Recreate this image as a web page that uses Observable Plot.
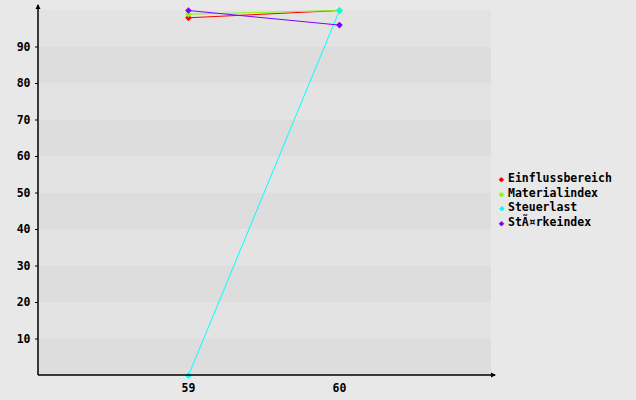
<!DOCTYPE html>
<html><head><meta charset="utf-8">
<script src="https://cdn.jsdelivr.net/npm/d3@7"></script>
<script src="https://cdn.jsdelivr.net/npm/@observablehq/plot@0.6"></script>
<style>
html,body{margin:0;padding:0;background:#e8e8e8;}
#wrap{position:relative;width:636px;height:400px;}
#legend{position:absolute;left:497px;top:171px;font:bold 11.5px "DejaVu Sans Mono",monospace;color:#000;}
#legend div{height:14.7px;line-height:14.7px;white-space:nowrap;}
#legend span.m{display:inline-block;width:9px;font-size:9px;text-align:center;margin-right:2px;}
</style></head>
<body><div id="wrap"><div id="legend"></div></div>
<script>
const xValues = [59, 60];
const seriesNames = ["Einflussbereich", "Materialindex", "Steuerlast", "StÃ¤rkeindex"];
const einfluss = [98, 100];
const material = [99, 100];
const steuer = [0, 100];
const staerke = [100, 96];
const colors = ["#ff0000", "#80ff00", "#00ffff", "#8000ff"];
const yTicks = [10, 20, 30, 40, 50, 60, 70, 80, 90];

const seriesValues = [einfluss, material, steuer, staerke];
const data = [];
seriesNames.forEach((s, i) => xValues.forEach((x, j) => data.push({series: s, x, y: seriesValues[i][j]})));
const bands = d3.range(0, 100, 10).map((v, i) => ({y1: v, y2: v + 10, dark: i % 2 === 0}));

const plot = Plot.plot({
  width: 636, height: 400,
  marginLeft: 38, marginRight: 145, marginTop: 10, marginBottom: 25,
  style: {background: "#e8e8e8", fontFamily: "DejaVu Sans Mono", fontWeight: "bold", fontSize: "11.5px", color: "#000"},
  x: {domain: [58.007, 61.007]},
  y: {domain: [0, 100]},
  color: {domain: seriesNames, range: colors},
  marks: [
    Plot.rect(bands, {x1: 58.007, x2: 61.007, y1: "y1", y2: "y2", fill: d => d.dark ? "#dddddd" : "#e3e3e3"}),
    Plot.axisY({ticks: yTicks, tickSize: 3, tickPadding: 5, label: null, stroke: "#000", strokeOpacity: 1}),
    Plot.axisX({ticks: xValues, tickSize: 0, tickPadding: 8, label: null, tickFormat: d => String(d)}),
    Plot.line(data, {x: "x", y: "y", z: "series", stroke: d => d.series, strokeWidth: 1}),
    Plot.dot(data, {x: "x", y: "y", fill: d => d.series, stroke: null, symbol: "diamond2", r: 3})
  ]
});
document.getElementById("wrap").prepend(plot);

// axes lines with arrowheads
const sx = plot.scale("x"), sy = plot.scale("y");
const svg = d3.select(plot);
const x0 = sx.range[0], x1 = sx.range[1], y0 = sy.apply(0), yTop = sy.apply(100);
const g = svg.append("g").attr("stroke", "#000").attr("fill", "#000");
g.append("line").attr("x1", x0).attr("x2", x0).attr("y1", y0).attr("y2", yTop - 5).attr("stroke-width", 1.5);
g.append("line").attr("x1", x0).attr("x2", x1 + 4).attr("y1", y0).attr("y2", y0).attr("stroke-width", 1.5);
g.append("path").attr("d", `M${x0},${yTop-6} L${x0-2.5},${yTop-1} L${x0+2.5},${yTop-1}Z`).attr("stroke", "none");
g.append("path").attr("d", `M${x1+5},${y0} L${x1},${y0-2.5} L${x1},${y0+2.5}Z`).attr("stroke", "none");

const legend = d3.select("#legend");
seriesNames.forEach((s, i) => {
  const row = legend.append("div");
  row.append("span").attr("class", "m").style("color", colors[i]).text("◆");
  row.append("span").text(s);
});
</script></body></html>
